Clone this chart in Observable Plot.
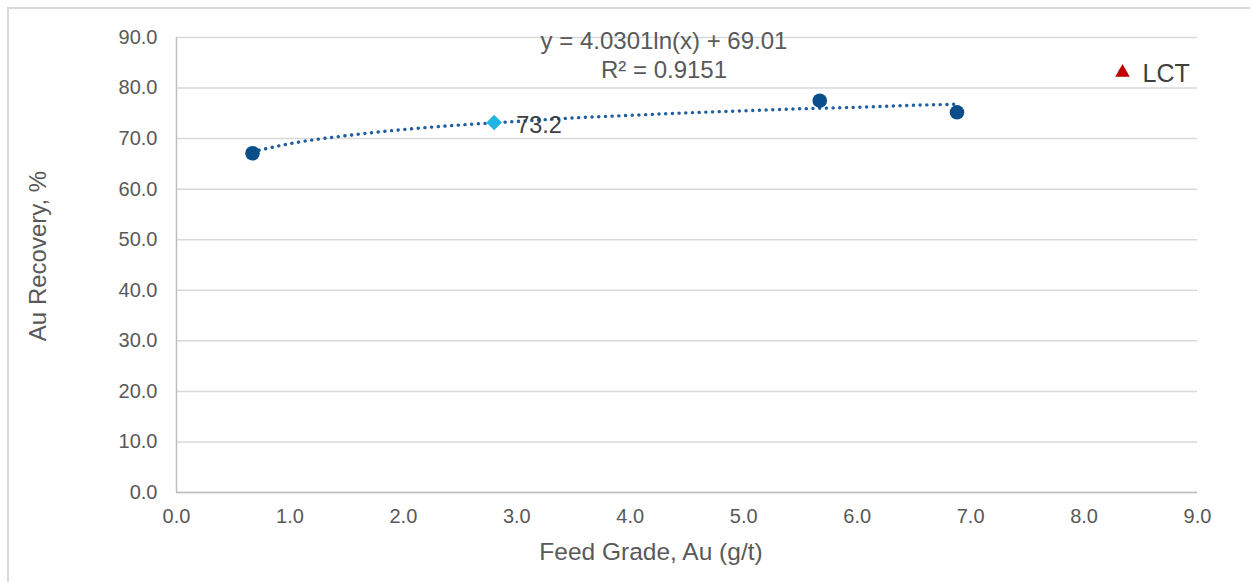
<!DOCTYPE html>
<html>
<head>
<meta charset="utf-8">
<script src="https://cdn.jsdelivr.net/npm/d3@7"></script>
<script src="https://cdn.jsdelivr.net/npm/@observablehq/plot@0.6"></script>
<style>
  html, body { margin: 0; padding: 0; background: #fff; }
  #wrap { position: relative; width: 1250px; height: 582px; overflow: hidden; }
  #edge { position: absolute; left: 7px; top: 7px; width: 1300px; height: 600px;
          border-left: 2px solid #d9d9d9; border-top: 2px solid #d9d9d9; pointer-events: none; }
</style>
</head>
<body>
<div id="wrap"><div id="edge"></div></div>
<script>
// Measured test points (feed grade g/t, Au recovery %)
const feedGrade = [0.67, 5.67, 6.88];
const recovery  = [67.1, 77.5, 75.2];
// Highlighted point
const hiGrade = [2.80];
const hiRecovery = [73.2];
const hiLabel = ["73.2"];
// Logarithmic trendline (y = 4.0301 ln(x) + 69.01)
const trendX = [0.67, 1.0, 1.5, 2.0, 2.5, 3.0, 3.5, 4.0, 4.5, 5.0, 5.5, 6.0, 6.5, 6.88];
const trendY = [67.4, 69.0, 70.6, 71.8, 72.7, 73.4, 74.1, 74.6, 75.1, 75.5, 75.9, 76.2, 76.6, 76.8];
const equationText = ["y = 4.0301ln(x) + 69.01", "R\u00b2 = 0.9151"];
const legendLabel = ["LCT"];
const xTicks = [0, 1, 2, 3, 4, 5, 6, 7, 8, 9];
const yTicks = [0, 10, 20, 30, 40, 50, 60, 70, 80, 90];
const xTitle = "Feed Grade, Au (g/t)";
const yTitle = "Au Recovery, %";

const points = feedGrade.map((x, i) => ({x, y: recovery[i]}));
const hi = hiGrade.map((x, i) => ({x, y: hiRecovery[i], label: hiLabel[i]}));
const trend = trendX.map((x, i) => ({x, y: trendY[i]}));

const font = "'Liberation Sans', Arial, sans-serif";
const fmt = d => d.toFixed(1);

const chart = Plot.plot({
  width: 1250,
  height: 582,
  marginLeft: 176,
  marginRight: 53,
  marginTop: 37,
  marginBottom: 90,
  style: { fontFamily: font, fontSize: "20px", color: "#595959", background: "transparent", overflow: "visible" },
  x: { domain: [0, 9] },
  y: { domain: [0, 90] },
  marks: [
    Plot.gridY(yTicks, { stroke: "#d9d9d9", strokeOpacity: 1, strokeWidth: 1.5 }),
    Plot.ruleX([0], { stroke: "#bfbfbf", strokeWidth: 1.5 }),
    Plot.ruleY([0], { stroke: "#bfbfbf", strokeWidth: 1.5 }),
    Plot.axisY(yTicks, { tickSize: 0, tickPadding: 19, tickFormat: fmt, label: null, fill: "#595959" }),
    Plot.axisX(xTicks, { tickSize: 0, tickPadding: 16, tickFormat: fmt, label: null, fill: "#595959" }),
    Plot.text([xTitle], { frameAnchor: "bottom", dx: -36, dy: 60, fontSize: 24.5, fill: "#595959", textAnchor: "middle", lineAnchor: "middle" }),
    Plot.text([yTitle], { frameAnchor: "left", dx: -138, dy: -9, rotate: -90, fontSize: 24, fill: "#595959", textAnchor: "middle", lineAnchor: "middle" }),
    Plot.line(trend, { x: "x", y: "y", stroke: "#1f5f9e", strokeWidth: 3.4, strokeDasharray: "0.1 6.6", strokeLinecap: "round", curve: "monotone-x" }),
    Plot.dot(points, { x: "x", y: "y", r: 7.3, fill: "#0a4f8c", stroke: "none" }),
    Plot.dot(hi, { x: "x", y: "y", r: 7, symbol: "diamond2", fill: "#22b4e2", stroke: "none" }),
    Plot.text(hi, { x: "x", y: "y", text: "label", dx: 22, dy: 3, textAnchor: "start", fontSize: 23.5, fill: "#404040" }),
    Plot.text([equationText.join("\n")], { frameAnchor: "top", dx: -23, dy: 17, lineAnchor: "middle", lineHeight: 1.17, fontSize: 24, fill: "#595959" }),
    Plot.dot(legendLabel, { frameAnchor: "top-right", dx: -75, dy: 35, symbol: "triangle", r: 5.4, fill: "#c00000", stroke: "none" }),
    Plot.text(legendLabel, { frameAnchor: "top-right", dx: -55, dy: 36, textAnchor: "start", fontSize: 25, fill: "#404040", lineAnchor: "middle" })
  ]
});
document.getElementById("wrap").prepend(chart);
</script>
</body>
</html>
